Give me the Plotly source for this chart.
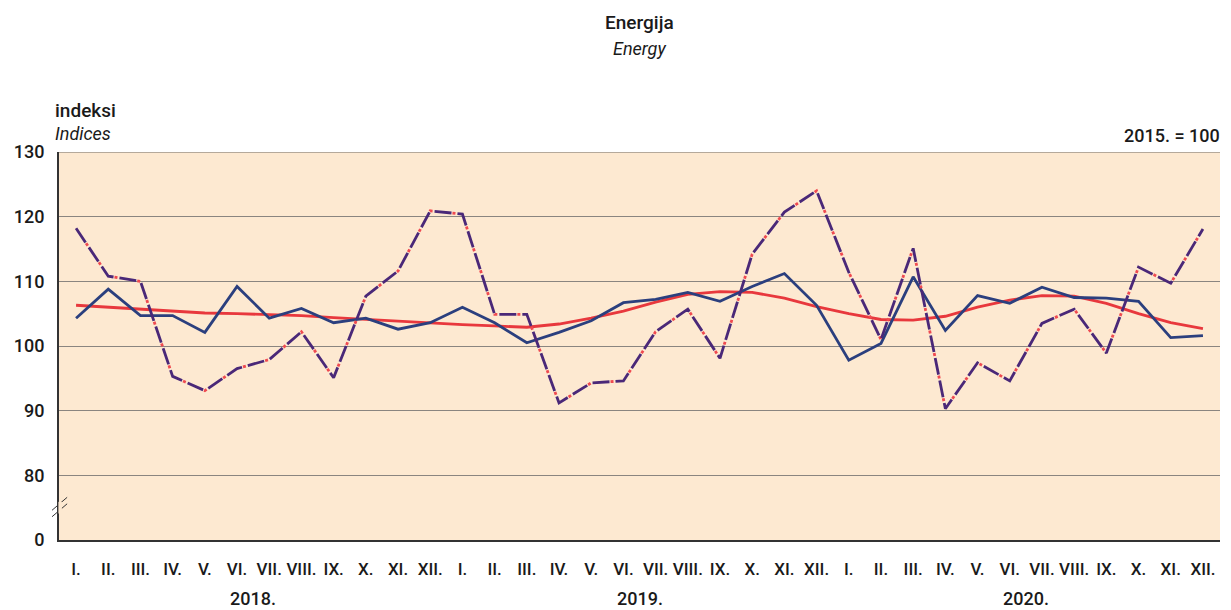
import plotly.graph_objects as go

# months 2018-2020
month_labels = ["I.", "II.", "III.", "IV.", "V.", "VI.", "VII.", "VIII.", "IX.", "X.", "XI.", "XII."] * 3
years = ["2018.", "2019.", "2020."]

# original index
original = [118.2, 110.8, 110.0, 95.3, 93.1, 96.5, 97.9, 102.2, 95.1, 107.7, 111.6, 120.9,
            120.4, 104.9, 104.9, 91.2, 94.3, 94.6, 102.2, 105.7, 98.1, 114.2, 120.7, 124.0,
            111.4, 101.0, 115.1, 90.3, 97.4, 94.6, 103.5, 105.7, 98.9, 112.2, 109.7, 118.1]

# seasonally adjusted
seas_adj = [104.3, 108.8, 104.7, 104.7, 102.1, 109.2, 104.3, 105.8, 103.6, 104.3, 102.6, 103.6,
            106.0, 103.6, 100.5, 102.1, 103.9, 106.7, 107.2, 108.3, 106.9, 109.2, 111.2, 106.3,
            97.8, 100.4, 110.7, 102.4, 107.8, 106.6, 109.1, 107.5, 107.4, 106.9, 101.3, 101.6]

# trend
trend = [106.3, 106.0, 105.7, 105.4, 105.1, 105.0, 104.9, 104.7, 104.4, 104.1, 103.8, 103.6,
         103.3, 103.1, 102.9, 103.4, 104.3, 105.4, 106.8, 108.0, 108.4, 108.3, 107.4, 106.1,
         105.0, 104.1, 104.0, 104.6, 106.0, 107.1, 107.8, 107.7, 106.6, 105.0, 103.6, 102.7]

y_ticks = [70, 80, 90, 100, 110, 120, 130]
y_tick_text = ["0", "80", "90", "100", "110", "120", "130"]

x = list(range(len(month_labels)))
FONT = "Roboto, Liberation Sans, sans-serif"

fig = go.Figure()

# trend
fig.add_trace(go.Scatter(x=x, y=trend, mode="lines",
                         line=dict(color="#e8383d", width=2.8), name="trend"))
# seasonally adjusted
fig.add_trace(go.Scatter(x=x, y=seas_adj, mode="lines",
                         line=dict(color="#2b3f7e", width=2.8), name="seas"))
# original: red dots in the gaps of a purple dash
fig.add_trace(go.Scatter(x=x, y=original, mode="lines",
                         line=dict(color="#ef4a50", width=2.8, dash="0px,18px,3px,2px"),
                         name="orig_dots"))
fig.add_trace(go.Scatter(x=x, y=original, mode="lines",
                         line=dict(color="#4a2878", width=2.8, dash="17px,6px"),
                         name="orig"))

# page body has an 8px margin, so the figure is sized to fit inside it
fig.update_layout(
    width=1223, height=602,
    margin=dict(l=51, r=11, t=144, b=70),
    paper_bgcolor="white",
    plot_bgcolor="#fde9d1",
    showlegend=False,
    font=dict(family=FONT, size=17, color="#1a1a1a", weight=500),
    xaxis=dict(range=[-0.53, 35.53], tickvals=x, ticktext=month_labels, automargin=False,
               showgrid=False, zeroline=False, showline=True, linecolor="#333",
               linewidth=2, ticks="", tickfont=dict(size=17, weight=500), ticklabelstandoff=13),
    yaxis=dict(range=[70, 130], tickvals=y_ticks, ticktext=y_tick_text, automargin=False,
               showgrid=True, gridcolor="#8a8580", gridwidth=1.2, zeroline=False,
               showline=True, linecolor="#333", linewidth=2, ticks="",
               tickfont=dict(size=18, weight=500), ticklabelstandoff=9),
)

# top border line (130)
fig.add_shape(type="line", xref="paper", yref="y", x0=0, x1=1, y0=130, y1=130,
              line=dict(color="#6e6a66", width=1.2))

# axis break marks
for dy in (0, 1.0):
    fig.add_shape(type="line", xref="paper", yref="y",
                  x0=-0.006, x1=0.007, y0=73.6 + dy, y1=75.6 + dy,
                  line=dict(color="#333", width=1))
fig.add_shape(type="rect", xref="paper", yref="y", x0=-0.0005, x1=0.0025, y0=74.1, y1=75.9,
              fillcolor="#fde9d1", line=dict(width=0), layer="above")

# year labels
for i, yr in enumerate(years):
    fig.add_annotation(x=5.5 + 12 * i, y=0, xref="x", yref="paper", yanchor="middle",
                       yshift=-58, text=yr, showarrow=False, font=dict(size=18, weight=500))

# titles
fig.add_annotation(x=0.5, y=1, xref="paper", yref="paper", xanchor="center", yanchor="middle",
                   yshift=152 - 22, text="Energija", showarrow=False, font=dict(size=19, weight=500))
fig.add_annotation(x=0.5, y=1, xref="paper", yref="paper", xanchor="center", yanchor="middle",
                   yshift=152 - 48, text="<i>Energy</i>", showarrow=False,
                   font=dict(size=18, weight=400))
fig.add_annotation(x=0, y=1, xref="paper", yref="paper", xanchor="left", yanchor="middle",
                   xshift=-6, yshift=152 - 110, text="indeksi", showarrow=False,
                   font=dict(size=19, weight=500))
fig.add_annotation(x=0, y=1, xref="paper", yref="paper", xanchor="left", yanchor="middle",
                   xshift=-6, yshift=152 - 133, text="<i>Indices</i>", showarrow=False,
                   font=dict(size=18, weight=400))
fig.add_annotation(x=1, y=1, xref="paper", yref="paper", xanchor="right", yanchor="middle",
                   xshift=2, yshift=152 - 135, text="2015. = 100", showarrow=False,
                   font=dict(size=18, weight=500))

fig.write_html("out.html")
